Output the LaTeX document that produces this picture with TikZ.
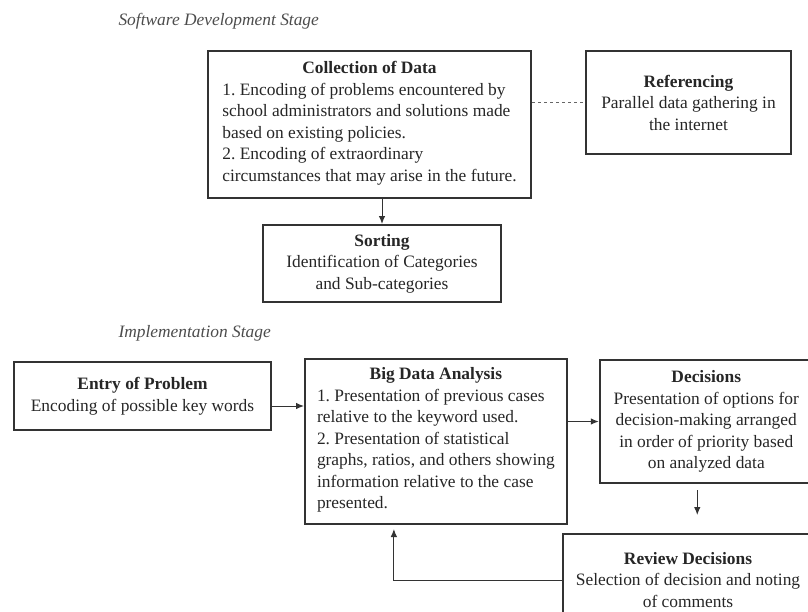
\documentclass[tikz,border=0pt]{standalone}
\usepackage{fontspec}
\setmainfont{Liberation Serif}
\usetikzlibrary{positioning,arrows.meta}
\begin{document}
\begin{tikzpicture}[x=1pt, y=-1pt, ->, >={Latex[length=8pt,width=6.5pt]},
  box/.style={draw=black!80, line width=2pt, align=center, text=black!85,
    font=\fontsize{17.4}{21.5}\selectfont\frenchspacing, inner xsep=12pt},
  stage/.style={anchor=west, text=black!70, font=\fontsize{17.4}{20}\selectfont\itshape},
  link/.style={line width=1pt, draw=black!80}]
  \useasboundingbox (0,0) rectangle (808,611);

  \node[stage] (sdev) at (115,21) {Software Development Stage};
  \node[stage] (impl) at (115,333) {Implementation Stage};

  \node[box, anchor=north west, minimum width=323pt, minimum height=147pt] (collect) at (207,50)
    {\textbf{Collection of Data}\\
     \begin{tabular}[t]{@{}l@{}}
     1. Encoding of problems encountered by\\
     school administrators and solutions made\\
     based on existing policies.\\
     2. Encoding of extraordinary\\
     circumstances that may arise in the future.
     \end{tabular}};
  \node[box, minimum width=205pt, minimum height=103pt,
    right=53pt of collect.north east, anchor=north west] (refer)
    {\textbf{Referencing}\\ Parallel data gathering in\\ the internet};
  \node[box, minimum width=238pt, minimum height=77pt,
    below=25pt of collect.south, xshift=12.5pt] (sort)
    {\textbf{Sorting}\\ Identification of Categories\\ and Sub-categories};

  \node[box, anchor=north west, minimum width=257pt, minimum height=68pt] (entry) at (13,361)
    {\textbf{Entry of Problem}\\ Encoding of possible key words};
  \node[box, minimum width=261pt, minimum height=165pt,
    right=32pt of entry.north east, anchor=north west, yshift=3pt] (bigdata)
    {\textbf{Big Data Analysis}\\
     \begin{tabular}[t]{@{}l@{}}
     1. Presentation of previous cases\\
     relative to the keyword used.\\
     2. Presentation of statistical\\
     graphs, ratios, and others showing\\
     information relative to the case\\
     presented.
     \end{tabular}};
  \node[box, minimum width=213pt, minimum height=123pt,
    right=31pt of bigdata.north east, anchor=north west, yshift=-1pt] (decide)
    {\textbf{Decisions}\\ Presentation of options for\\ decision-making arranged\\
     in order of priority based\\ on analyzed data};
  \node[box, anchor=north west, minimum width=250pt, minimum height=92pt] (review) at (562,533)
    {\textbf{Review Decisions}\\ Selection of decision and noting\\ of comments};

  \coordinate (entryout) at ([yshift=-10pt]entry.east);
  \coordinate (reviewin) at ([xshift=-9pt]decide.south |- review.north);
  \draw[link, -, dashed, draw=black!60] (collect.east |- refer.west) -- (refer.west);
  \draw[link] (collect.south -| sort.north) -- (sort.north);
  \draw[link] (entryout) -- (bigdata.west |- entryout);
  \draw[link] (bigdata.east |- decide.west) -- (decide.west);
  \draw[link, shorten <=6pt, shorten >=18pt] ([xshift=-9pt]decide.south) -- (reviewin);
  \draw[link, shorten >=4pt] (review.west) -| ([xshift=-42pt]bigdata.south);
\end{tikzpicture}
\end{document}
